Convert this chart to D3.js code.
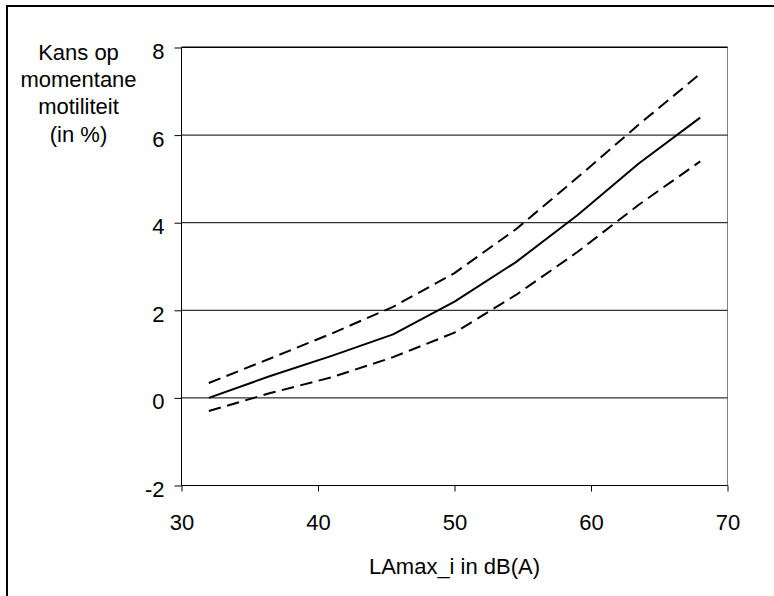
<!DOCTYPE html>
<html>
<head>
<meta charset="utf-8">
<script src="https://cdn.jsdelivr.net/npm/d3@7"></script>
<style>
  html, body { margin: 0; padding: 0; background: #fff; }
  svg { display: block; }
  text { font-family: "Liberation Sans", Arial, sans-serif; fill: #000; }
</style>
</head>
<body>
<svg id="chart" width="774" height="596"></svg>
<script>
// ---- data ----
const xValues = [32, 36.5, 41, 45.5, 50, 54.5, 59, 63.5, 68];
const estimate = [0, 0.5, 0.96, 1.45, 2.2, 3.1, 4.17, 5.35, 6.4];
const upperBound = [0.34, 0.9, 1.47, 2.08, 2.85, 3.85, 5.03, 6.24, 7.4];
const lowerBound = [-0.3, 0.11, 0.47, 0.93, 1.49, 2.35, 3.33, 4.41, 5.4];
const xTicks = [30, 40, 50, 60, 70];
const yTicks = [-2, 0, 2, 4, 6, 8];
const yTitleLines = ["Kans op", "momentane", "motiliteit", "(in %)"];
const xTitle = "LAmax_i in dB(A)";

const svg = d3.select("#chart");
const pLeft = 181.5, pRight = 727.5, pTop = 47.5, pBottom = 485.5;

const x = d3.scaleLinear().domain([30, 70]).range([pLeft, pRight]);
const y = d3.scaleLinear().domain([-2, 8]).range([pBottom, pTop]);

// outer frame
svg.append("rect")
  .attr("x", 7).attr("y", 6)
  .attr("width", 900).attr("height", 900)
  .attr("fill", "none").attr("stroke", "#000").attr("stroke-width", 2);

// plot area border (grey)
svg.append("rect")
  .attr("x", pLeft).attr("y", pTop)
  .attr("width", pRight - pLeft).attr("height", pBottom - pTop)
  .attr("fill", "none").attr("stroke", "#808080").attr("stroke-width", 1);

// gridlines
svg.append("g").selectAll("line")
  .data(yTicks.filter(d => d !== -2))
  .join("line")
  .attr("x1", pLeft).attr("x2", pRight)
  .attr("y1", d => y(d)).attr("y2", d => y(d))
  .attr("stroke", "#000").attr("stroke-width", 1);
// top edge slightly heavier
svg.append("line")
  .attr("x1", pLeft).attr("x2", pRight)
  .attr("y1", y(8) - 0.5).attr("y2", y(8) - 0.5)
  .attr("stroke", "#000").attr("stroke-width", 1);

// axes
const fmt = d => String(d);
const yAxis = d3.axisLeft(y).tickValues(yTicks).tickSize(7).tickPadding(10).tickFormat(fmt);
const gy = svg.append("g").attr("transform", `translate(${pLeft},0)`).call(yAxis);
gy.select(".domain").attr("stroke", "#000").attr("d", `M0,${pTop}V${pBottom}`);
gy.selectAll(".tick line").attr("stroke", "#000");
gy.selectAll(".tick text")
  .attr("font-size", 22)
  .attr("font-family", "Liberation Sans, Arial, sans-serif")
  .attr("dy", "0.5em")
  .attr("fill", "#000");

const xAxis = d3.axisBottom(x).tickValues(xTicks).tickSize(6).tickPadding(23).tickFormat(fmt);
const gx = svg.append("g").attr("transform", `translate(0,${pBottom})`).call(xAxis);
gx.select(".domain").attr("stroke", "#000").attr("d", `M${pLeft},0H${pRight}`);
gx.selectAll(".tick line").attr("stroke", "#000");
gx.selectAll(".tick text")
  .attr("font-size", 22)
  .attr("font-family", "Liberation Sans, Arial, sans-serif")
  .attr("fill", "#000");

// lines
const line = d3.line().x((d, i) => x(xValues[i])).y(d => y(d));
const series = [
  { values: upperBound, dash: "12.5,6.5" },
  { values: estimate, dash: null },
  { values: lowerBound, dash: "12.5,6.5" }
];
svg.append("g").selectAll("path")
  .data(series)
  .join("path")
  .attr("d", d => line(d.values))
  .attr("fill", "none")
  .attr("stroke", "#000")
  .attr("stroke-width", 2)
  .attr("stroke-linejoin", "round")
  .attr("stroke-dasharray", d => d.dash);

// y title
svg.append("text")
  .attr("text-anchor", "middle")
  .attr("font-size", 22)
  .selectAll("tspan")
  .data(yTitleLines)
  .join("tspan")
  .attr("x", 78.5)
  .attr("y", (d, i) => 60 + i * 27.2)
  .text(d => d);

// x title
svg.append("text")
  .attr("x", (pLeft + pRight) / 2)
  .attr("y", 574)
  .attr("text-anchor", "middle")
  .attr("font-size", 22)
  .text(xTitle);
</script>
</body>
</html>
